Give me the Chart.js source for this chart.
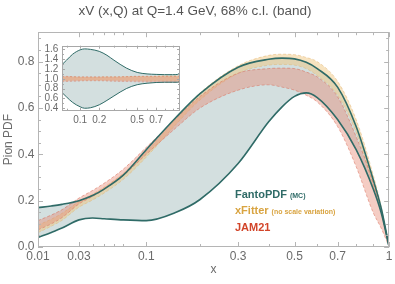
<!DOCTYPE html>
<html>
<head>
<meta charset="utf-8">
<title>Pion PDF</title>
<script src="https://cdn.jsdelivr.net/npm/chart.js@4.4.1/dist/chart.umd.min.js"></script>
<style>
  body { margin: 0; background: #fff; }
  #wrap { position: relative; width: 395px; height: 284px; }
  #main { position: absolute; left: 0; top: 0; }
  #inset { position: absolute; left: 30px; top: 36px; }
</style>
</head>
<body>
<div id="wrap">
  <canvas id="main" width="395" height="284"></canvas>
  <canvas id="inset" width="156" height="92"></canvas>
</div>
<script>
// ---- main plot data (xV at Q = 1.4 GeV) ----
var xs = [0.01, 0.015, 0.02, 0.03, 0.04, 0.05, 0.07, 0.1, 0.15, 0.2, 0.3, 0.4, 0.45, 0.5, 0.55, 0.6, 0.7, 0.8, 0.9, 0.95, 1];
var fantoUp  = [0.170, 0.177, 0.184, 0.200, 0.222, 0.250, 0.310, 0.420, 0.560, 0.662, 0.776, 0.810, 0.815, 0.812, 0.797, 0.770, 0.690, 0.520, 0.290, 0.165, 0];
var fantoLow = [0.041, 0.063, 0.082, 0.117, 0.125, 0.122, 0.117, 0.114, 0.150, 0.205, 0.360, 0.540, 0.605, 0.650, 0.665, 0.645, 0.550, 0.420, 0.250, 0.145, 0];
var xfUp     = [0.095, 0.120, 0.145, 0.196, 0.228, 0.258, 0.318, 0.412, 0.555, 0.665, 0.782, 0.827, 0.832, 0.830, 0.818, 0.800, 0.715, 0.550, 0.310, 0.172, 0];
var xfLow    = [0.062, 0.090, 0.115, 0.172, 0.203, 0.233, 0.292, 0.388, 0.530, 0.635, 0.750, 0.785, 0.788, 0.785, 0.770, 0.740, 0.655, 0.495, 0.265, 0.148, 0];
var jamUp    = [0.114, 0.138, 0.161, 0.211, 0.244, 0.275, 0.336, 0.430, 0.555, 0.650, 0.750, 0.770, 0.772, 0.770, 0.755, 0.734, 0.648, 0.476, 0.277, 0.150, 0];
var jamLow   = [0.074, 0.100, 0.127, 0.186, 0.218, 0.248, 0.308, 0.400, 0.515, 0.600, 0.677, 0.700, 0.690, 0.677, 0.655, 0.626, 0.520, 0.347, 0.148, 0.080, 0];

var xTicks = [0.01, 0.03, 0.1, 0.3, 0.5, 0.7, 1];
var xTickLabels = ['0.01', '0.03', '0.1', '0.3', '0.5', '0.7', '1'];
var xMinor = [0.04, 0.05, 0.06, 0.07, 0.2, 0.4, 0.6, 0.8, 0.9];
var yTicks = [0, 0.2, 0.4, 0.6, 0.8];
var yMinor = [0.05, 0.1, 0.15, 0.25, 0.3, 0.35, 0.45, 0.5, 0.55, 0.65, 0.7, 0.75, 0.85, 0.9];

// ---- inset data (ratio to central value) ----
var insetXs = [0.037, 0.05, 0.07, 0.1, 0.12, 0.15, 0.2, 0.25, 0.3, 0.4, 0.5, 0.6, 0.7, 0.8, 0.9, 0.97, 1];
var rFantoUp  = [1.29, 1.38, 1.50, 1.59, 1.61, 1.60, 1.56, 1.48, 1.38, 1.22, 1.13, 1.10, 1.09, 1.085, 1.085, 1.09, 1.13];
var rFantoLow = [0.72, 0.63, 0.52, 0.43, 0.40, 0.41, 0.47, 0.56, 0.65, 0.80, 0.88, 0.91, 0.925, 0.93, 0.93, 0.93, 0.95];
var rXfUp   = [1.04, 1.04, 1.04, 1.035, 1.035, 1.035, 1.035, 1.04, 1.04, 1.045, 1.05, 1.05, 1.055, 1.06, 1.06, 1.06, 1.06];
var rXfLow  = [0.965, 0.965, 0.97, 0.97, 0.97, 0.97, 0.97, 0.97, 0.97, 0.965, 0.965, 0.96, 0.96, 0.96, 0.96, 0.96, 0.96];
var rJamUp  = [1.05, 1.05, 1.045, 1.04, 1.04, 1.04, 1.04, 1.04, 1.04, 1.045, 1.05, 1.05, 1.05, 1.05, 1.05, 1.05, 1.05];
var rJamLow = [0.94, 0.945, 0.95, 0.955, 0.96, 0.96, 0.96, 0.955, 0.95, 0.945, 0.94, 0.935, 0.93, 0.93, 0.93, 0.93, 0.93];
var insetXTicks = [0.1, 0.2, 0.5, 0.7];
var insetXMinor = [0.05, 0.3, 0.4, 0.6, 0.8, 0.9];
var insetYTicks = [0.4, 0.6, 0.8, 1.0, 1.2, 1.4, 1.6];
var insetYMinor = [0.5, 0.7, 0.9, 1.1, 1.3, 1.5];

var legendNames = ['FantoPDF', 'xFitter', 'JAM21'];
var legendNotes = ['(MC)', '(no scale variation)', ''];

var TEAL = '#2f6b67', TAN = '#d9a441', RED = '#d2452a';
var FANTO_FILL = '#d3dfdf';
var XF_FILL = 'rgba(240, 200, 130, 0.5)', XF_EDGE = 'rgba(222, 170, 95, 0.55)';
var JAM_FILL = 'rgba(230, 135, 115, 0.42)', JAM_EDGE = 'rgba(215, 105, 85, 0.65)';

Chart.defaults.font.family = "'Liberation Sans', Arial, sans-serif";
Chart.defaults.color = '#6b6b6b';

// main x axis is drawn in x^P, the inset in sqrt(x)
var P = 0.351;
function u(x) { return Math.pow(x, P); }
function us(x) { return Math.sqrt(x); }

function curve(xx, ys, tf) {
	return xx.map(function(x, i) { return {x: tf(x), y: ys[i]}; });
}

// plain line, optionally filled down to the next dataset
function line(xx, ys, tf, color, width, order, dash, fillTo) {
	return {data: curve(xx, ys, tf), borderColor: color, borderWidth: width, borderDash: dash || [],
		fill: fillTo ? '+1' : false, backgroundColor: fillTo || 'transparent',
		pointRadius: 0, order: order, cubicInterpolationMode: 'monotone'};
}

// frame with inward tick marks on all four sides
function makeFrame(cfg) {
	return {
		id: 'frame',
		beforeDatasetsDraw: function(chart) {
			if (!cfg.bg) return;
			var a = chart.chartArea, ctx = chart.ctx;
			ctx.save();
			ctx.fillStyle = cfg.bg;
			ctx.fillRect(a.left, a.top, a.right - a.left, a.bottom - a.top);
			ctx.restore();
		},
		afterDraw: function(chart) {
			var a = chart.chartArea, ctx = chart.ctx, sx = chart.scales.x, sy = chart.scales.y;
			ctx.save();
			ctx.strokeStyle = cfg.color;
			ctx.lineWidth = 1;
			ctx.strokeRect(Math.round(a.left) + 0.5, Math.round(a.top) + 0.5,
				Math.round(a.right - a.left) - 1, Math.round(a.bottom - a.top) - 1);
			function seg(x1, y1, x2, y2) { ctx.beginPath(); ctx.moveTo(x1, y1); ctx.lineTo(x2, y2); ctx.stroke(); }
			function xt(vals, len) {
				vals.forEach(function(v) {
					var p = Math.round(sx.getPixelForValue(cfg.tf(v))) + 0.5;
					seg(p, a.bottom, p, a.bottom - len);
					seg(p, a.top, p, a.top + len);
				});
			}
			function yt(vals, len) {
				vals.forEach(function(v) {
					var p = Math.round(sy.getPixelForValue(v)) + 0.5;
					seg(a.left, p, a.left + len, p);
					seg(a.right, p, a.right - len, p);
				});
			}
			xt(cfg.xMajor, cfg.major); xt(cfg.xMinor, cfg.minor);
			yt(cfg.yMajor, cfg.major); yt(cfg.yMinor, cfg.minor);
			ctx.restore();
		}
	};
}

var bandLegend = {
	id: 'bandLegend',
	afterDatasetsDraw: function(chart) {
		var ctx = chart.ctx, a = chart.chartArea;
		var colors = [TEAL, TAN, RED];
		var x0 = a.left + 197, y0 = a.top + 166;
		ctx.save();
		ctx.textBaseline = 'alphabetic';
		legendNames.forEach(function(name, i) {
			var y = y0 + i * 16.2;
			ctx.fillStyle = colors[i];
			ctx.font = "bold 11px 'Liberation Sans', Arial, sans-serif";
			ctx.fillText(name, x0, y);
			var w = ctx.measureText(name).width;
			if (legendNotes[i]) {
				ctx.font = "bold 7px 'Liberation Sans', Arial, sans-serif";
				ctx.fillText(legendNotes[i], x0 + w + 3, y);
			}
		});
		ctx.restore();
	}
};

function bandSets(tf, xx, fUp, fLow, jUp, jLow, xUp, xLow, lw, ew, dash) {
	var none = 'rgba(0,0,0,0)';
	return [
		line(xx, fUp, tf, TEAL, lw, 0),
		line(xx, fLow, tf, TEAL, lw, 0),
		line(xx, jUp, tf, JAM_EDGE, ew, 1, dash, JAM_FILL),
		line(xx, jLow, tf, JAM_EDGE, ew, 1, dash),
		line(xx, xUp, tf, XF_EDGE, ew, 2, dash, XF_FILL),
		line(xx, xLow, tf, XF_EDGE, ew, 2, dash),
		line(xx, fUp, tf, none, 0, 3, [], FANTO_FILL),
		line(xx, fLow, tf, none, 0, 3)
	];
}

new Chart(document.getElementById('main'), {
	type: 'line',
	data: {datasets: bandSets(u, xs, fantoUp, fantoLow, jamUp, jamLow, xfUp, xfLow, 1.6, 0.8, [3, 2])},
	options: {
		responsive: false,
		animation: false,
		devicePixelRatio: 1,
		layout: {padding: {right: 5}},
		scales: {
			x: {
				type: 'linear',
				min: u(0.01), max: u(1),
				grid: {display: false, drawTicks: false},
				border: {display: false},
				afterBuildTicks: function(scale) {
					scale.ticks = xTicks.map(function(v) { return {value: u(v)}; });
				},
				afterFit: function(scale) { scale.height = 37; },
				ticks: {
					autoSkip: false, maxRotation: 0, padding: 2.5,
					font: {size: 12}, color: '#6b6b6b',
					callback: function(v, i) { return xTickLabels[i]; }
				},
				title: {display: true, text: 'x', font: {size: 12}, color: '#6b6b6b', padding: {top: 0, bottom: 7}}
			},
			y: {
				min: 0, max: 0.927,
				grid: {display: false, drawTicks: false},
				border: {display: false},
				afterBuildTicks: function(scale) {
					scale.ticks = yTicks.map(function(v) { return {value: v}; });
				},
				afterFit: function(scale) { scale.width = 38; },
				ticks: {
					autoSkip: false, padding: 3.5, font: {size: 12}, color: '#6b6b6b',
					callback: function(v) { return v.toFixed(1); }
				},
				title: {display: true, text: 'Pion PDF', font: {size: 12}, color: '#6b6b6b', padding: {top: 1, bottom: 0}}
			}
		},
		plugins: {
			legend: {display: false},
			tooltip: {enabled: false},
			title: {
				display: true,
				text: 'xV (x,Q) at Q=1.4 GeV, 68% c.l. (band)',
				font: {size: 13.5, weight: 'normal'},
				color: '#555',
				padding: {top: 3, bottom: 13}
			}
		}
	},
	plugins: [makeFrame({color: '#b5b5b5', tf: u, xMajor: xTicks, xMinor: xMinor, yMajor: yTicks, yMinor: yMinor, major: 5, minor: 3}), bandLegend]
});

new Chart(document.getElementById('inset'), {
	type: 'line',
	data: {datasets: bandSets(us, insetXs, rFantoUp, rFantoLow, rJamUp, rJamLow, rXfUp, rXfLow, 1, 0.6, [2, 2])},
	options: {
		responsive: false,
		animation: false,
		devicePixelRatio: 1,
		layout: {padding: {top: 5.7, right: 6}},
		scales: {
			x: {
				type: 'linear',
				min: us(0.037), max: us(1),
				grid: {display: false, drawTicks: false},
				border: {display: false},
				afterBuildTicks: function(scale) {
					scale.ticks = insetXTicks.map(function(v) { return {value: us(v)}; });
				},
				afterFit: function(scale) { scale.height = 17.3; },
				ticks: {
					autoSkip: false, maxRotation: 0, padding: 3.3,
					font: {size: 10}, color: '#6b6b6b',
					callback: function(v, i) { return insetXTicks[i].toString(); }
				}
			},
			y: {
				min: 0.35, max: 1.675,
				grid: {display: false, drawTicks: false},
				border: {display: false},
				afterBuildTicks: function(scale) {
					scale.ticks = insetYTicks.map(function(v) { return {value: v}; });
				},
				afterFit: function(scale) { scale.width = 32; },
				ticks: {
					autoSkip: false, padding: 3.7, font: {size: 10}, color: '#6b6b6b',
					callback: function(v) { return v.toFixed(1); }
				}
			}
		},
		plugins: {legend: {display: false}, tooltip: {enabled: false}, title: {display: false}}
	},
	plugins: [makeFrame({color: '#a8a8a8', bg: '#ffffff', tf: us, xMajor: insetXTicks, xMinor: insetXMinor, yMajor: insetYTicks, yMinor: insetYMinor, major: 3, minor: 2})]
});
</script>
</body>
</html>
